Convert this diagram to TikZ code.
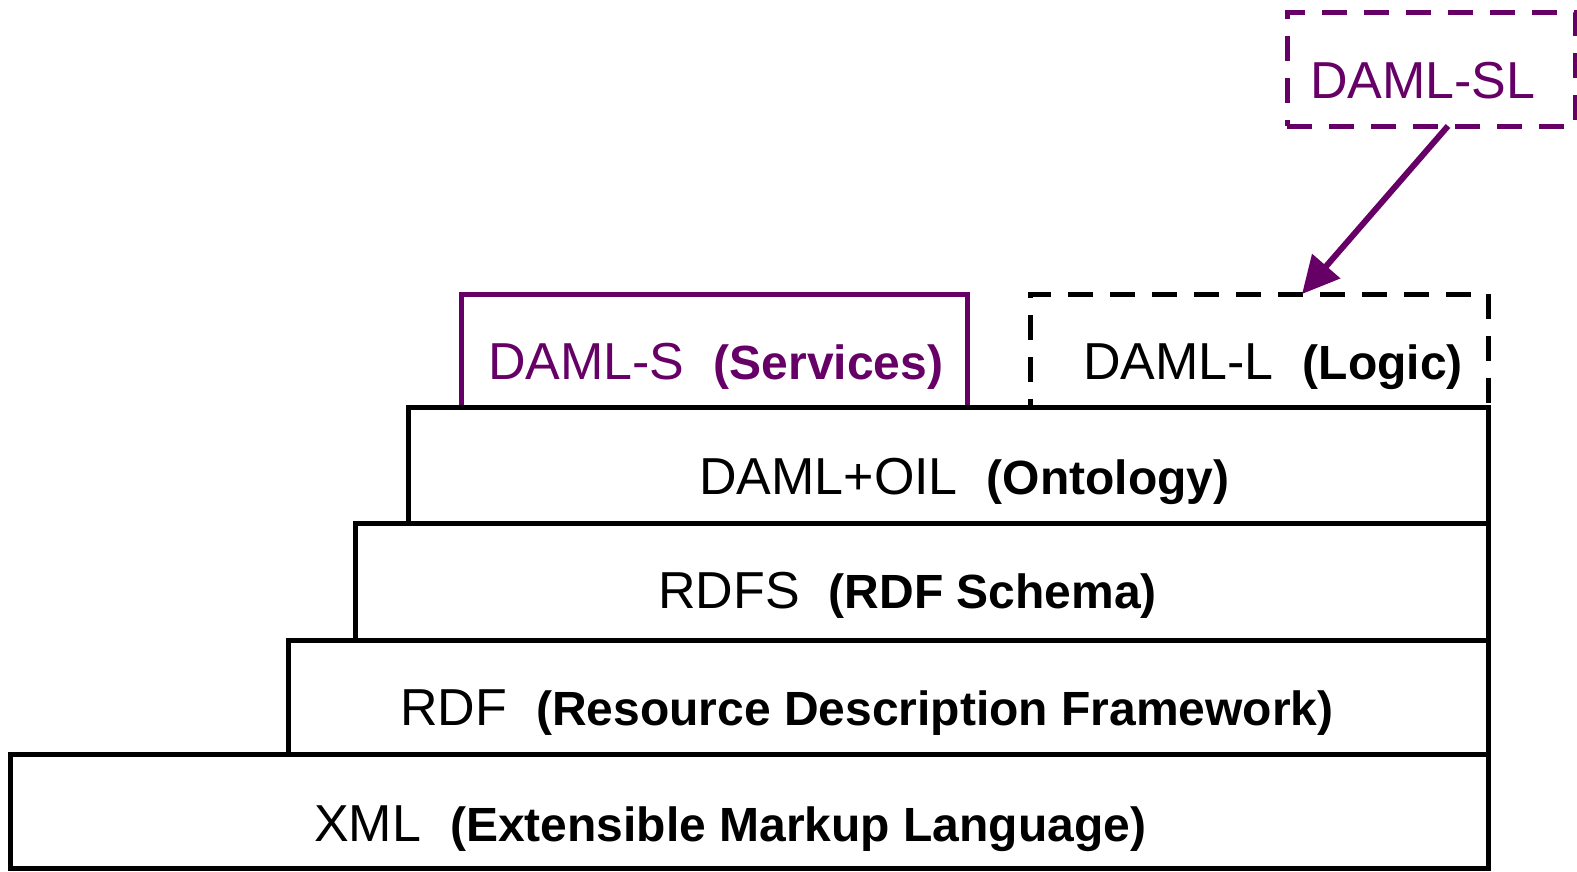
\documentclass[tikz,border=0pt]{standalone}
\usepackage{fontspec}
\setmainfont{Liberation Sans}
\usepackage{tikz}
\usetikzlibrary{arrows.meta}
\definecolor{damlpurple}{HTML}{660066}
\newcommand{\layername}[2]{#1\hspace{29pt}{\fontsize{48}{56}\selectfont\bfseries #2}}
\tikzstyle{layer_box} = [draw, line width = 5pt, inner sep = 0, outer sep = 0, anchor = north west]
\tikzstyle{layer_box_dashed} = [layer_box, dash pattern = on 25pt off 17pt]
\tikzstyle{layer_text} = [inner sep = 0, anchor = base west, font = \fontsize{52}{60}\selectfont]
\tikzstyle{sl_arrow} = [draw = damlpurple, line width = 6pt, -{Triangle[length = 37pt, width = 36pt]}]

\begin{document}
\begin{tikzpicture}[x = 1pt, y = -1pt]
    \useasboundingbox (0, 0) rectangle (1577, 871);
    % upper layers
    \node [layer_box, draw = damlpurple, minimum width = 506pt, minimum height = 113pt] (damls) at (461, 294) {};
    \node [layer_box_dashed, minimum width = 458pt, minimum height = 113pt] (damll) at (1030, 294) {};
    \node [layer_box_dashed, draw = damlpurple, minimum width = 288pt, minimum height = 114pt] (damlsl) at (1287, 12) {};
    % stacked layers
    \node [layer_box, minimum width = 1080pt, minimum height = 116pt] (oil) at (408, 407) {};
    \node [layer_box, minimum width = 1133pt, minimum height = 117pt] (rdfs) at (355, 523) {};
    \node [layer_box, minimum width = 1200pt, minimum height = 114pt] (rdf) at (288, 640) {};
    \node [layer_box, minimum width = 1478pt, minimum height = 114pt] (xml) at (10, 754) {};
    % labels
    \node [layer_text] (xml_label) at (314, 841) {\layername{XML}{(Extensible Markup Language)}};
    \node [layer_text] (rdf_label) at (400, 725) {\layername{RDF}{(Resource Description Framework)}};
    \node [layer_text] (rdfs_label) at (658, 608) {\layername{RDFS}{(RDF Schema)}};
    \node [layer_text] (oil_label) at (699, 494) {\layername{DAML+OIL}{(Ontology)}};
    \node [layer_text, text = damlpurple] (damls_label) at (488, 379) {\layername{DAML-S}{(Services)}};
    \node [layer_text] (damll_label) at (1083, 379) {\layername{DAML-L}{(Logic)}};
    \node [layer_text, text = damlpurple] (damlsl_label) at (1310, 98) {DAML-SL};
    % arrow
    \draw [sl_arrow] ([xshift = 17pt] damlsl.south) -- ([xshift = 43pt] damll.north);
\end{tikzpicture}
\end{document}
